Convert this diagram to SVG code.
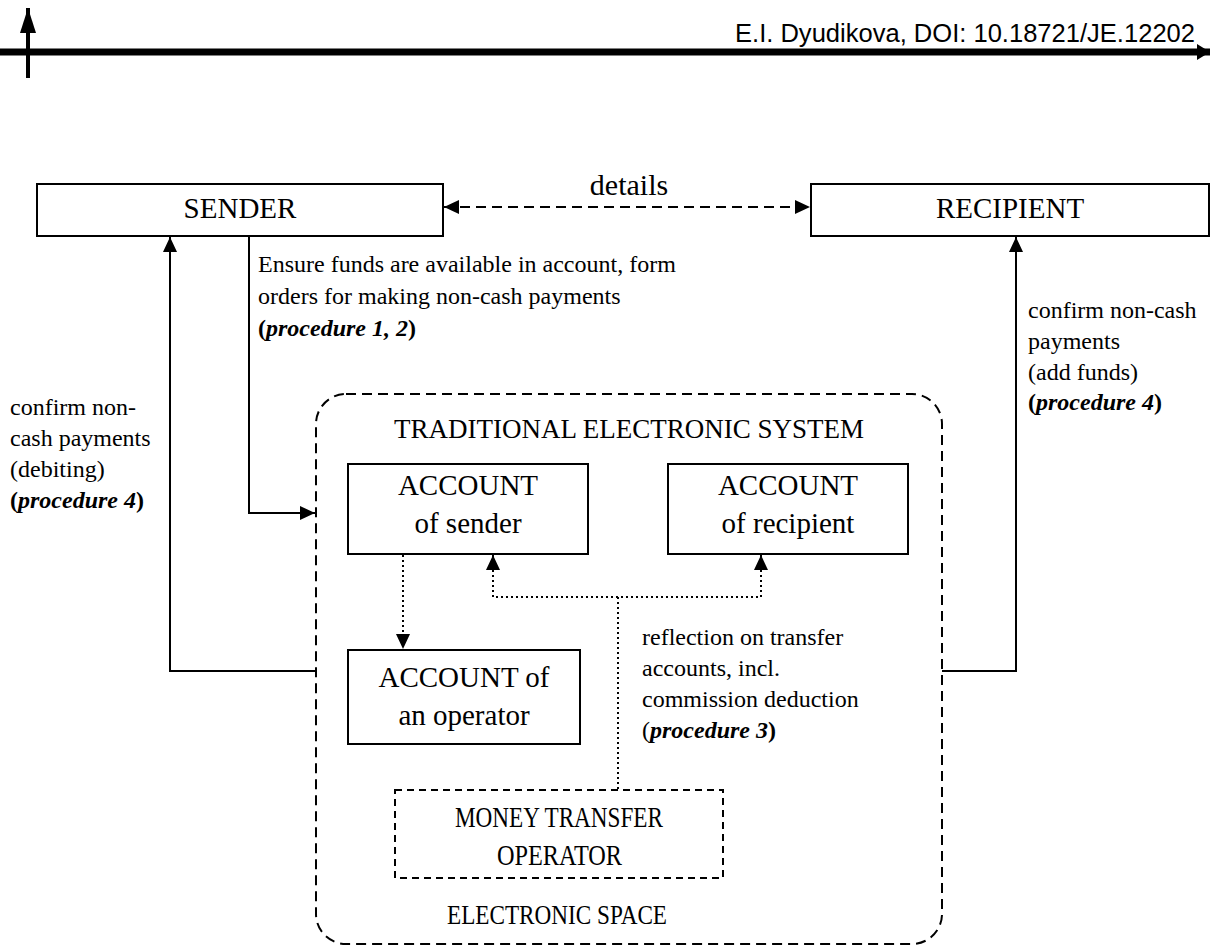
<svg xmlns="http://www.w3.org/2000/svg" width="1211" height="946" viewBox="0 0 1211 946">
<style>
.box{fill:#fff;stroke:#000;stroke-width:2}
.t{font-family:"Liberation Serif","Times New Roman",serif;fill:#000}
.big{font-size:29px;text-anchor:middle}
.sm{font-size:24px}
.ln{fill:none;stroke:#000;stroke-width:2}
.dash{fill:none;stroke:#000;stroke-width:2;stroke-dasharray:10,6}
.dot{fill:none;stroke:#000;stroke-width:2;stroke-dasharray:2,3}
</style>
<defs>
<marker id="ah" markerUnits="userSpaceOnUse" markerWidth="16" markerHeight="14" refX="15" refY="7" orient="auto-start-reverse">
<path d="M0,0 L15,7 L0,14 Z" fill="#000"/>
</marker>
<marker id="bh" markerUnits="userSpaceOnUse" markerWidth="26" markerHeight="16" refX="25" refY="8" orient="auto">
<path d="M0,0 L25,8 L0,16 Z" fill="#000"/>
</marker>
<marker id="rh" markerUnits="userSpaceOnUse" markerWidth="14" markerHeight="16" refX="13" refY="8" orient="auto">
<path d="M0,0 L13,8 L0,16 Z" fill="#000"/>
</marker>
</defs>
<g id="header">
<line x1="0" y1="52" x2="1210" y2="52" stroke="#000" stroke-width="7" marker-end="url(#rh)"/>
<line x1="28" y1="78" x2="28" y2="8" stroke="#000" stroke-width="4" marker-end="url(#bh)"/>
<text x="735" y="42" font-family="Liberation Sans, Arial, sans-serif" font-size="25" textLength="460" lengthAdjust="spacingAndGlyphs">E.I. Dyudikova,  DOI: 10.18721/JE.12202</text>
</g>
<g id="space">
<rect x="316" y="394" width="626" height="550" rx="30" ry="30" class="dash"/>
<text class="t" x="629" y="438" font-size="27" text-anchor="middle">TRADITIONAL ELECTRONIC SYSTEM</text>
<text class="t" x="447" y="924" font-size="28" textLength="220" lengthAdjust="spacingAndGlyphs">ELECTRONIC SPACE</text>
</g>
<g id="sender">
<rect class="box" x="37" y="184" width="406" height="52"/>
<text class="t big" x="240" y="218" font-size="28">SENDER</text>
</g>
<g id="recipient">
<rect class="box" x="811" y="184" width="398" height="52"/>
<text class="t big" x="1010" y="218" font-size="28">RECIPIENT</text>
</g>
<g id="acc-sender">
<rect class="box" x="348" y="464" width="240" height="90"/>
<text class="t big" x="468" y="495">ACCOUNT</text>
<text class="t big" x="468" y="533">of sender</text>
</g>
<g id="acc-recipient">
<rect class="box" x="668" y="464" width="240" height="90"/>
<text class="t big" x="788" y="495">ACCOUNT</text>
<text class="t big" x="788" y="533">of recipient</text>
</g>
<g id="acc-operator">
<rect class="box" x="348" y="650" width="232" height="94"/>
<text class="t big" x="464" y="687">ACCOUNT of</text>
<text class="t big" x="464" y="725">an operator</text>
</g>
<g id="operator">
<rect x="395" y="790" width="328" height="88" fill="#fff" stroke="#000" stroke-width="2" stroke-dasharray="7,5"/>
<text class="t" x="455" y="827" font-size="30" textLength="208" lengthAdjust="spacingAndGlyphs">MONEY TRANSFER</text>
<text class="t" x="497" y="865" font-size="30" textLength="125" lengthAdjust="spacingAndGlyphs">OPERATOR</text>
</g>
<g id="connectors">
<line class="dash" x1="444" y1="207" x2="810" y2="207" marker-start="url(#ah)" marker-end="url(#ah)"/>
<text class="t" x="629" y="195" font-size="30" text-anchor="middle">details</text>
<polyline class="ln" points="249,236 249,513 315,513" marker-end="url(#ah)"/>
<polyline class="ln" points="316,671 170,671 170,237" marker-end="url(#ah)"/>
<polyline class="ln" points="942,671 1016,671 1016,237" marker-end="url(#ah)"/>
<line class="dot" x1="403" y1="555" x2="403" y2="649" marker-end="url(#ah)"/>
<polyline class="dot" points="493,555 493,597 761,597 761,555" marker-start="url(#ah)" marker-end="url(#ah)"/>
<line class="dot" x1="618" y1="597" x2="618" y2="790"/>
<text class="t sm" x="258" y="272">Ensure funds are available in account, form</text>
<text class="t sm" x="258" y="304">orders for making non-cash payments</text>
<text class="t sm" x="258" y="336" font-weight="bold">(<tspan font-style="italic">procedure 1, 2</tspan>)</text>
<text class="t sm" x="10" y="415">confirm non-</text>
<text class="t sm" x="10" y="446">cash payments</text>
<text class="t sm" x="10" y="477">(debiting)</text>
<text class="t sm" x="10" y="508" font-weight="bold">(<tspan font-style="italic">procedure 4</tspan>)</text>
<text class="t sm" x="1028" y="318">confirm non-cash</text>
<text class="t sm" x="1028" y="349">payments</text>
<text class="t sm" x="1028" y="380">(add funds)</text>
<text class="t sm" x="1028" y="410" font-weight="bold">(<tspan font-style="italic">procedure 4</tspan>)</text>
<text class="t sm" x="642" y="645">reflection on transfer</text>
<text class="t sm" x="642" y="676">accounts, incl.</text>
<text class="t sm" x="642" y="707">commission deduction</text>
<text class="t sm" x="642" y="738">(<tspan font-weight="bold" font-style="italic">procedure 3</tspan><tspan font-weight="bold">)</tspan></text>
</g>
</svg>
